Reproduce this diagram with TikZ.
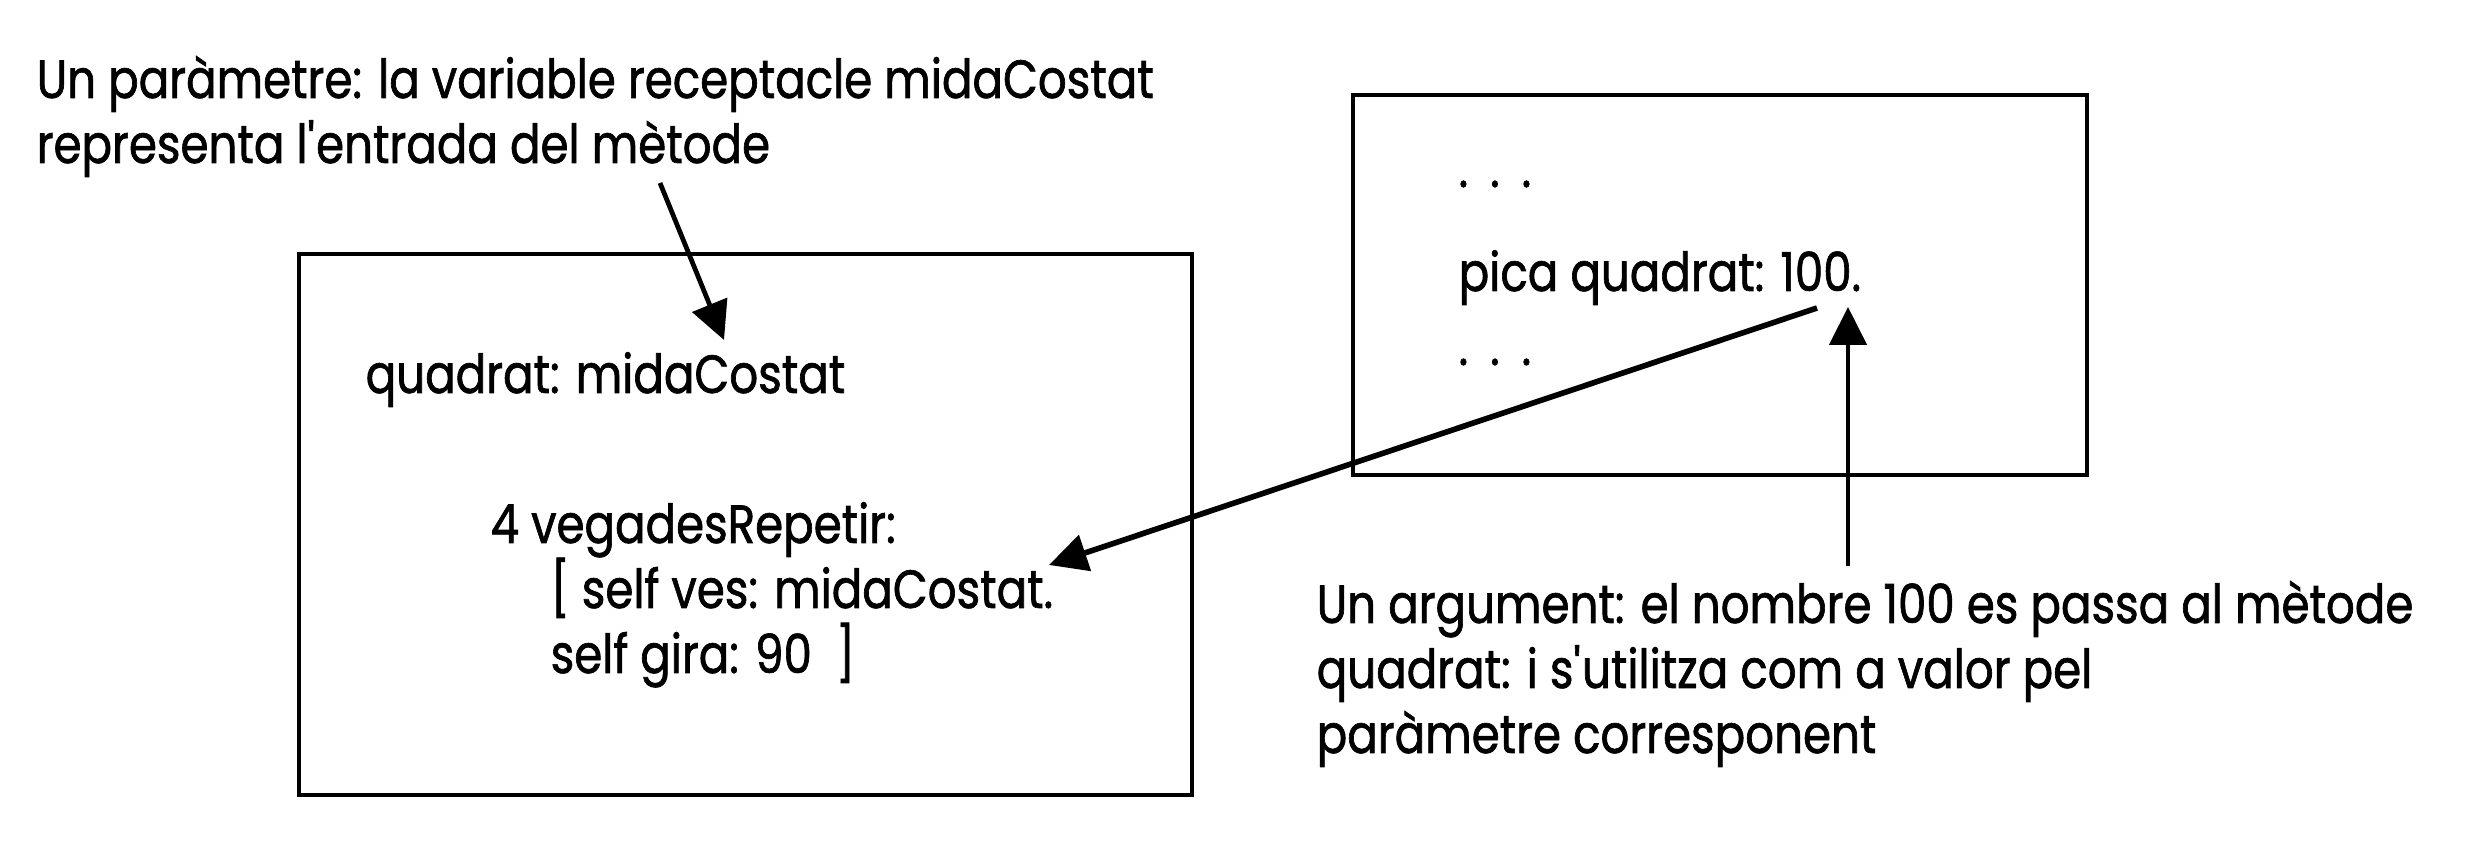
\documentclass[tikz,border=0pt]{standalone}
\usepackage{fontspec}
\setmainfont{Poppins}[FakeStretch=0.84,FakeBold=1.2]
\usetikzlibrary{arrows.meta,positioning}

\tikzset{
  nota/.style={anchor=base west, inner sep=0pt, align=left, font=\fontsize{15.3pt}{18.5pt}\selectfont},
  caixa/.style={draw, line width=1.35pt},
  fletxa/.style={line width=1.35pt, -{Triangle[length=0.38cm,width=0.37cm]}},
}

\begin{document}
\begin{tikzpicture}
    \useasboundingbox (0,0) rectangle (24.66,8.61);
    %% Metode
    \draw[caixa] (2.99,0.66) rectangle (11.92,6.07);
    \node[nota] (quadrat) at (3.65,4.68) {quadrat: midaCostat};
    % base = last line
    \node[nota] (repetir) at (4.90,1.88) {4 vegadesRepetir:\\\hspace{0.6cm}[ self ves: midaCostat.\\\hspace{0.6cm}self gira: 90\ \ ]};
    %% Crida
    \draw[caixa] (13.53,3.86) rectangle (20.87,7.66);
    \node[nota] (puntsA) at (14.58,6.74) {.\hspace{0.22cm}.\hspace{0.22cm}.};
    \node[nota] (pica) at (14.58,5.70) {pica quadrat: 100.};
    \node[nota] (puntsB) at (14.58,4.96) {.\hspace{0.22cm}.\hspace{0.22cm}.};
    %% Notes
    \node[nota] (param) at (0.36,6.98) {Un paràmetre: la variable receptacle midaCostat\\representa l\textquotesingle entrada del mètode};
    \node[nota] (argument) at (13.16,1.08) {Un argument: el nombre 100 es passa al mètode\\quadrat: i s\textquotesingle utilitza com a valor pel\\paràmetre corresponent};
    %% Fletxes
    \coordinate (paramfoot) at (6.60,6.78);
    \coordinate (quadratcap) at (7.24,5.21);
    \draw[fletxa] (paramfoot) -- (quadratcap);
    \coordinate (picafoot) at (18.17,5.53);
    \coordinate (vesend) at (10.49,2.96);
    \draw[fletxa,line width=1.6pt] (picafoot) -- (vesend);
    \coordinate (argtop) at (18.48,2.95);
    \coordinate (centbase) at (18.48,5.54);
    \draw[fletxa] (argtop) -- (centbase);
\end{tikzpicture}
\end{document}
